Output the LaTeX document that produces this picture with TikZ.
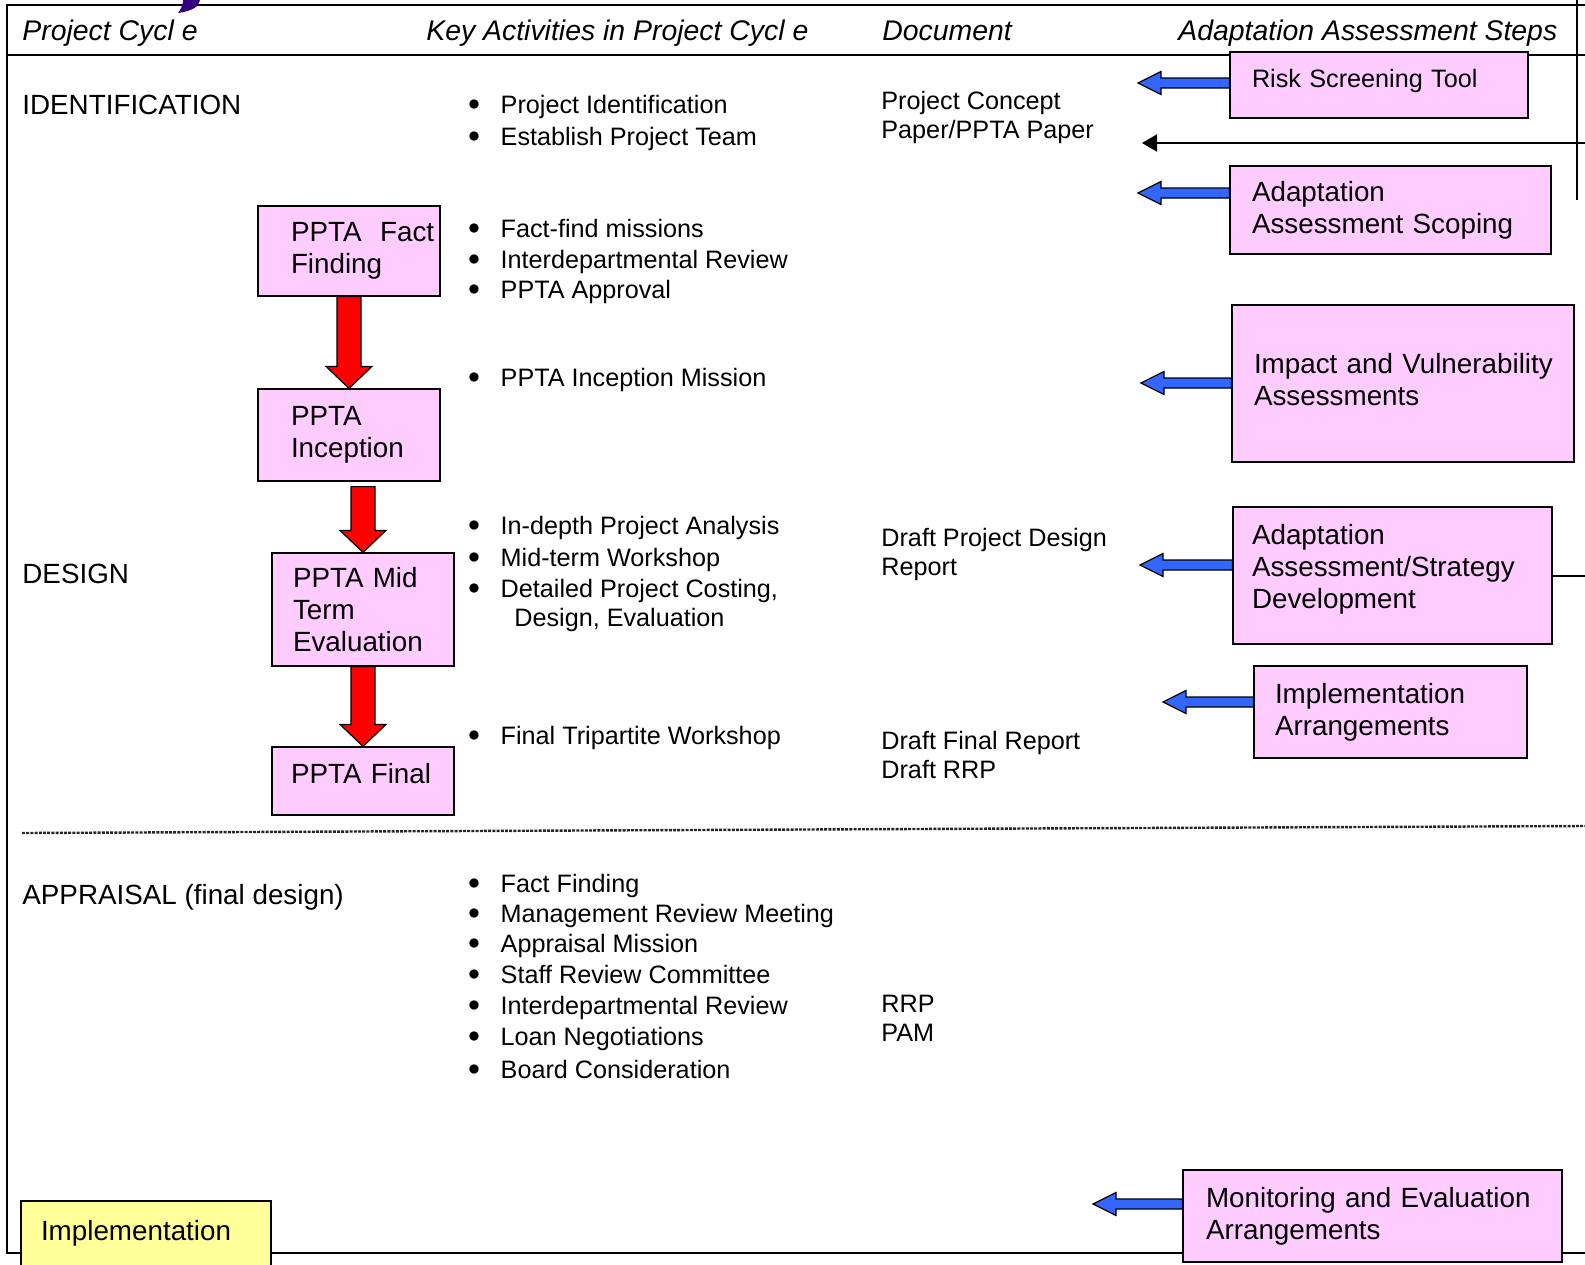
\documentclass[tikz,border=0pt]{standalone}
\usepackage{fontspec}
\setmainfont{Liberation Sans}
\usetikzlibrary{arrows.meta, calc}
\definecolor{boxpink}{HTML}{FFCCFF}
\definecolor{boxyellow}{HTML}{FFFF99}
\definecolor{arrowblue}{HTML}{3366FF}
\definecolor{inkpurple}{HTML}{330080}
\newcommand{\actitem}{\raisebox{1.3pt}{$\bullet$}\hspace{10.3pt}}
\tikzset{
  headtext/.style={anchor=base west, inner sep=0pt, font=\fontsize{14.2}{17}\selectfont\itshape},
  phasetext/.style={anchor=base west, inner sep=0pt, font=\fontsize{13.9}{16}\selectfont},
  acttext/.style={anchor=base west, inner sep=0pt, font=\fontsize{12.6}{15}\selectfont},
  stepbox/.style={draw, line width=0.6pt, fill=boxpink, align=left, inner ysep=0pt,
    font=\fontsize{13.9}{16}\selectfont},
  blueleft/.style={draw, line width=0.6pt, fill=arrowblue,
    to path={let \p1=(\tikztostart), \p2=(\tikztotarget) in
      (\x1,\y2+2.5pt) -- (\x2+11.5pt,\y2+2.5pt) -- (\x2+11.5pt,\y2+5.75pt) -- (\x2,\y2)
      -- (\x2+11.5pt,\y2-5.75pt) -- (\x2+11.5pt,\y2-2.5pt) -- (\x1,\y2-2.5pt) -- cycle}},
  reddown/.style={draw, line width=0.6pt, fill=red,
    to path={let \p1=(\tikztostart), \p2=(\tikztotarget) in
      (\x2-6pt,\y1) -- (\x2+6pt,\y1) -- (\x2+6pt,\y2+11pt) -- (\x2+11.5pt,\y2+11pt) -- (\x2,\y2)
      -- (\x2-11.5pt,\y2+11pt) -- (\x2-6pt,\y2+11pt) -- cycle}}
}
\begin{document}
\begin{tikzpicture}[x=0.5pt, y=-0.5pt]
  \useasboundingbox (0,0) rectangle (1585,1264);

  % table frame
  \draw[line width=1pt] (1585,5) -- (7,5) -- (7,1253) -- (1585,1253);
  \draw[line width=1pt] (7,55) -- (1585,55);
  \draw[line width=1.2pt, dash pattern=on 1.5pt off 0.6pt, black!85] (22,833) -- (1585,826);
  \fill[inkpurple] (183,0) -- (200,0) .. controls (199,7) and (192,11) .. (178,13)
    .. controls (181,9) and (183,5) .. (183,0) -- cycle;

  % headers
  \path
  (22,40.5) node[headtext](hcycle){Project Cycl e}
  (426,40.5) node[headtext](hact){Key Activities in Project Cycl e}
  (882,40.5) node[headtext](hdoc){Document}
  (1178,40.5) node[headtext](hsteps){Adaptation Assessment Steps};

  % phases
  \path
  (22,114) node[phasetext](ident){IDENTIFICATION}
  (22,583) node[phasetext](design){DESIGN}
  (22,904) node[phasetext](apprais){APPRAISAL (final design)};

  % key activities
  \path
  (467.7,113) node[acttext](a1){\actitem Project Identification}
  (467.7,145.5) node[acttext](a2){\actitem Establish Project Team}
  (467.7,237.5) node[acttext](a3){\actitem Fact-find missions}
  (467.7,268) node[acttext](a4){\actitem Interdepartmental Review}
  (467.7,298) node[acttext](a5){\actitem PPTA Approval}
  (467.7,386) node[acttext](a6){\actitem PPTA Inception Mission}
  (467.7,534) node[acttext](a7){\actitem In-depth Project Analysis}
  (467.7,566) node[acttext](a8){\actitem Mid-term Workshop}
  (467.7,597) node[acttext](a9){\actitem Detailed Project Costing,}
  (514,626) node[acttext](a10){Design, Evaluation}
  (467.7,744) node[acttext](a11){\actitem Final Tripartite Workshop};
  \path
  (467.7,892) node[acttext](b1){\actitem Fact Finding}
  (467.7,922) node[acttext](b2){\actitem Management Review Meeting}
  (467.7,952) node[acttext](b3){\actitem Appraisal Mission}
  (467.7,983) node[acttext](b4){\actitem Staff Review Committee}
  (467.7,1014) node[acttext](b5){\actitem Interdepartmental Review}
  (467.7,1045) node[acttext](b6){\actitem Loan Negotiations}
  (467.7,1078) node[acttext](b7){\actitem Board Consideration};

  % documents
  \path
  (881,109) node[acttext](d1){Project Concept}
  (881,138) node[acttext](d2){Paper/PPTA Paper}
  (881,546) node[acttext](d3){Draft Project Design}
  (881,575) node[acttext](d4){Report}
  (881,749) node[acttext](d5){Draft Final Report}
  (881,778) node[acttext](d6){Draft RRP}
  (881,1012) node[acttext](d7){RRP}
  (881,1041) node[acttext](d8){PAM};

  % PPTA stages
  \node[stepbox, text width=58pt, inner xsep=16.5pt, minimum height=45pt] (ff) at (349,251) {\mbox{PPTA\ \ Fact}\\Finding};
  \node[stepbox, text width=58pt, inner xsep=16.5pt, minimum height=46pt] (inc) at (349,435) {PPTA\\Inception};
  \node[stepbox, text width=70pt, inner xsep=10.5pt, minimum height=56.5pt] (mid) at (363,609.5) {PPTA Mid\\Term\\Evaluation};
  \node[stepbox, text width=72pt, inner xsep=9.5pt, minimum height=34pt, text depth=8pt] (fin) at (363,781) {\mbox{PPTA Final}};
  \draw[reddown] (ff.south) to (inc.north);
  \draw[reddown] ([yshift=-2.5pt]inc.south) to (mid.north);
  \draw[reddown] (mid.south) to (fin.north);

  \node[stepbox, fill=boxyellow, text width=105pt, inner xsep=10pt, minimum height=34.5pt, text depth=5pt] (implement) at (146,1235.5) {Implementation};

  % adaptation assessment steps
  \node[stepbox, text width=127pt, inner xsep=11pt, minimum height=33pt, text depth=7pt,
    font=\fontsize{12.6}{15}\selectfont] (risk) at (1379,85) {Risk Screening Tool};
  \node[stepbox, text width=138.5pt, inner xsep=11pt, minimum height=44pt] (scope) at (1390.5,210) {Adaptation\\\mbox{Assessment Scoping}};
  \node[stepbox, text width=149pt, inner xsep=11pt, minimum height=78.5pt] (imp) at (1403,383.5) {\mbox{Impact and Vulnerability}\\Assessments\\[-12pt]\mbox{}};
  \node[stepbox, text width=140.5pt, inner xsep=9.5pt, minimum height=68.5pt] (strat) at (1392.5,575.5) {Adaptation\\\mbox{Assessment/Strategy}\\Development\\[-7pt]\mbox{}};
  \node[stepbox, text width=115.5pt, inner xsep=10.5pt, minimum height=46pt] (impl) at (1390.5,712) {Implementation\\Arrangements};
  \node[stepbox, text width=166.5pt, inner xsep=11.5pt, minimum height=46pt] (mon) at (1372.5,1216) {\mbox{Monitoring and Evaluation}\\Arrangements};

  \coordinate (t1) at (1138,83);
  \coordinate (t2) at (1138,193);
  \coordinate (t3) at (1141,383);
  \coordinate (t4) at (1140,565);
  \coordinate (t5) at (1163,702);
  \coordinate (t6) at (1093,1204);
  \draw[blueleft] (risk.west) to (t1);
  \draw[blueleft] (scope.west) to (t2);
  \draw[blueleft] (imp.west) to (t3);
  \draw[blueleft] (strat.west) to (t4);
  \draw[blueleft] (impl.west) to (t5);
  \draw[blueleft] (mon.west) to (t6);

  % lines running off the right edge
  \coordinate (vtop) at (1577,0);
  \coordinate (vbot) at (1577,200);
  \coordinate (edge1) at (1585,143);
  \coordinate (t7) at (1142,143);
  \coordinate (edge2) at (1585,0);
  \draw[line width=1pt] (vtop) -- (vbot);
  \draw[line width=1pt, -{Triangle[length=7.5pt, width=8.5pt]}] (edge1) -- (t7);
  \draw[line width=1pt] (strat.east) -- (strat.east -| edge2);
\end{tikzpicture}
\end{document}
